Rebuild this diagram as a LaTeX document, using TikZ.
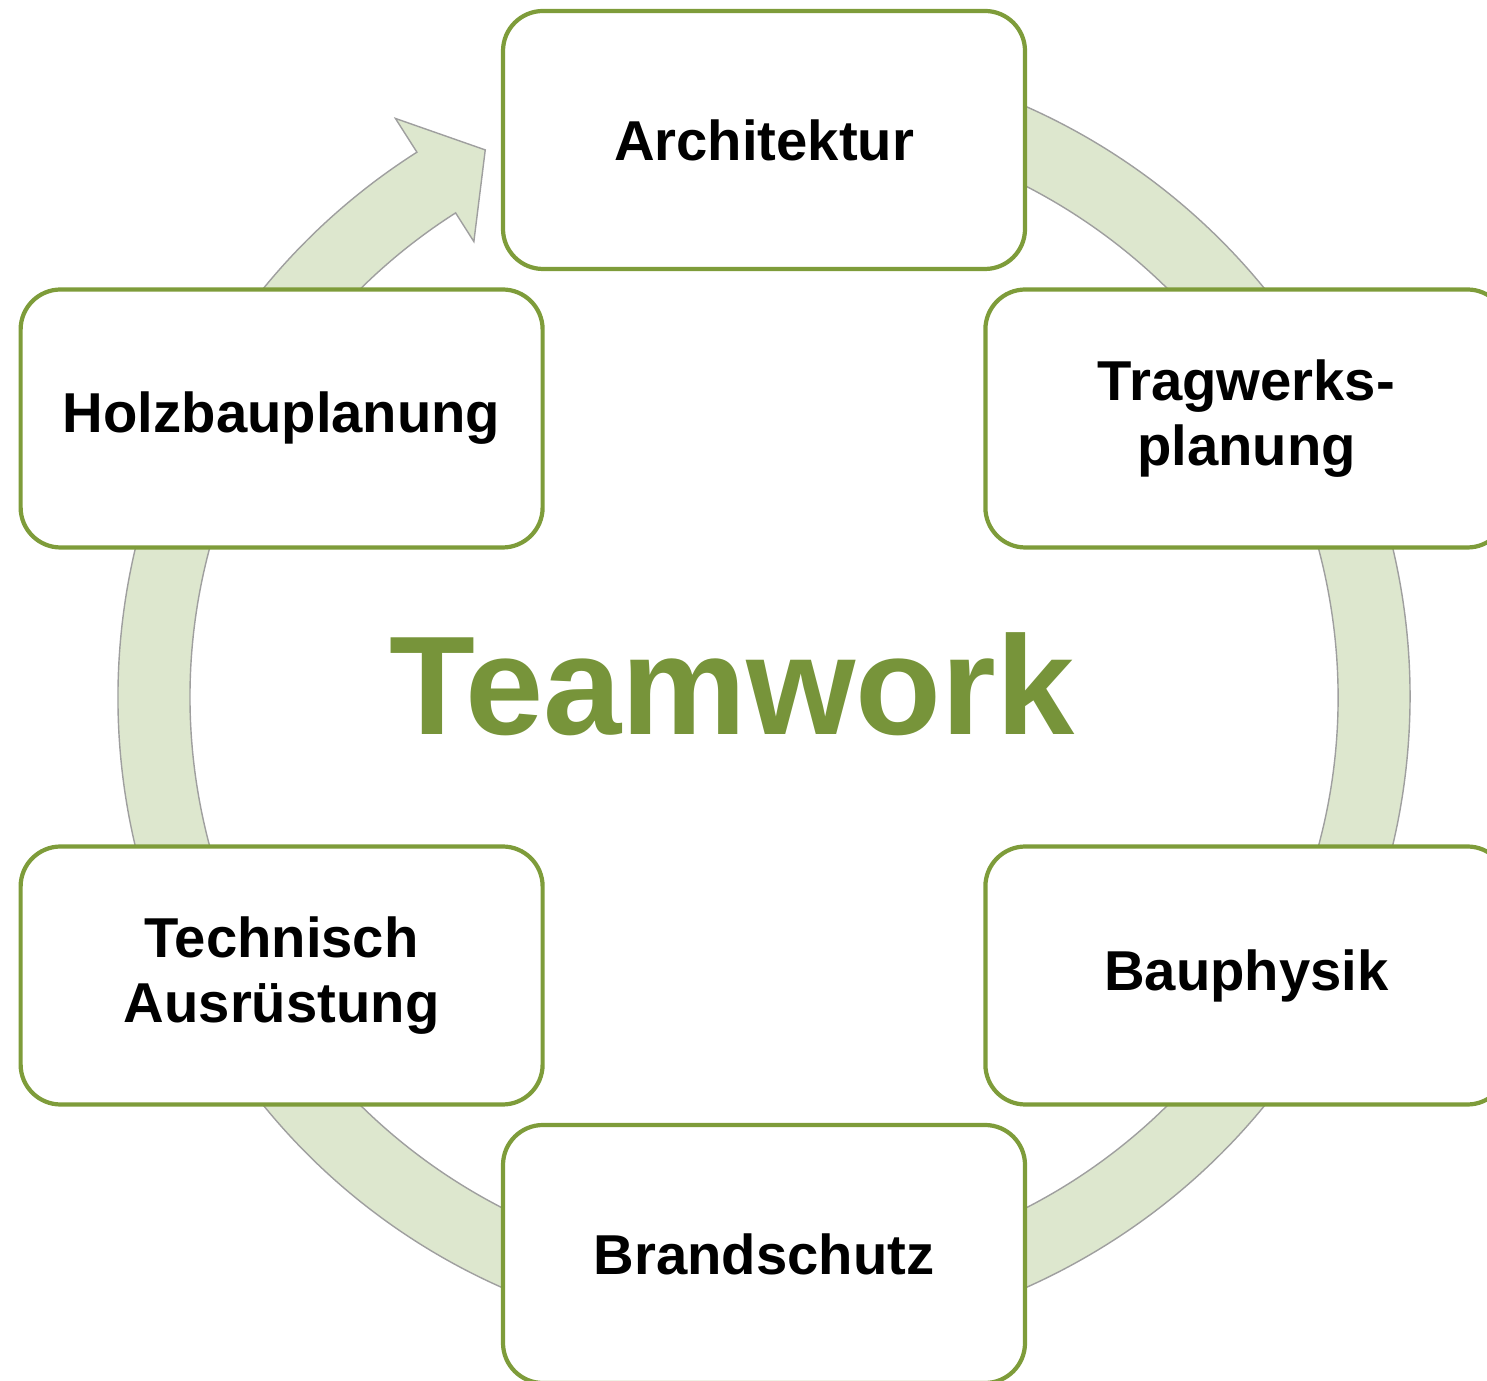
\documentclass[tikz,border=0pt]{standalone}
\usepackage{fontspec}
\setmainfont{Liberation Sans}
\usetikzlibrary{positioning}
\definecolor{framegreen}{RGB}{126,156,58}
\definecolor{teamgreen}{RGB}{119,148,58}
\definecolor{ringgreen}{RGB}{221,231,206}
\newcommand{\ringline}{gray!75}
\tikzstyle{every node}=[font=\fontsize{16}{18.5}\selectfont\bfseries, align=center]
\tikzstyle{teambox}=[draw=framegreen, line width=1.2pt, fill=white, rounded corners=0.4cm, minimum width=5.22cm, minimum height=2.58cm, inner sep=0]

\begin{document}
\begin{tikzpicture}
    \useasboundingbox (0,0) rectangle (14.87,13.80);
    \clip (0,0) rectangle (14.87,13.80);
    \begin{scope}[shift={(7.64,6.83)}]
        % ring, open in front of Architektur, with the arrow head
        \filldraw[fill=ringgreen, draw=\ringline, line width=0.4pt]
            (122.5:6.46) arc[start angle=122.5, end angle=460, radius=6.46]
            -- (460:5.74) arc[start angle=460, end angle=122.5, radius=5.74]
            -- (122.5:5.40) -- (117:6.14) -- (122.5:6.86) -- cycle;
        \node[teambox] (archi) at (90:5.57) {Architektur};
        \node[teambox] (tragwerk) at (30:5.57) {Tragwerks-\\planung};
        \node[teambox] (physik) at (-30:5.57) {Bauphysik};
        \node[teambox] (brand) at (-90:5.57) {Brandschutz};
        \node[teambox] (technik) at (210:5.57) {Technisch\\Ausrüstung};
        \node[teambox] (holzbau) at (150:5.57) {Holzbauplanung};
    \end{scope}
    \node[teamgreen, anchor=base, font=\fontsize{40}{48}\selectfont\bfseries] (team) at (7.32, 6.45) {Teamwork};
\end{tikzpicture}
\end{document}
